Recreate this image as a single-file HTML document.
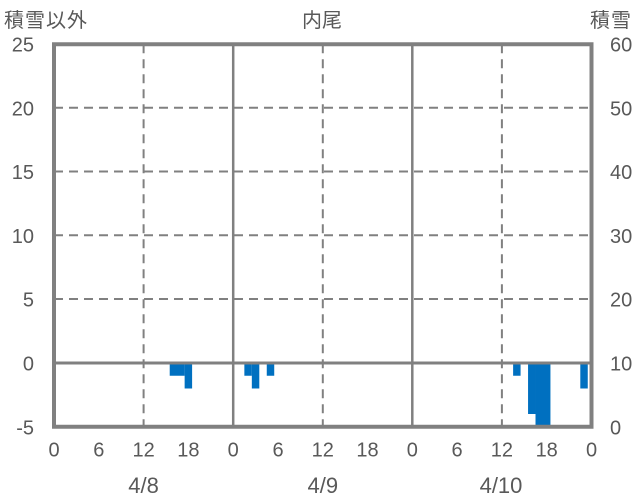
<!DOCTYPE html>
<html><head><meta charset="utf-8"><style>
html,body{margin:0;padding:0;background:#fff;}
svg{display:block;}
text{font-family:"Liberation Sans","Noto Sans CJK JP",sans-serif;fill:#595959;}
.cj{font-family:"Noto Sans CJK JP","Liberation Sans",sans-serif;}
</style></head><body>
<svg width="636" height="501" viewBox="0 0 636 501" xmlns="http://www.w3.org/2000/svg">
<rect width="636" height="501" fill="#fff"/>
<!-- bars -->
<g fill="#0070C0">
<rect x="169.71" y="363" width="14.93" height="12.75"/>
<rect x="184.64" y="363" width="7.47" height="25.5"/>
<rect x="244.36" y="363" width="7.47" height="12.75"/>
<rect x="251.83" y="363" width="7.47" height="25.5"/>
<rect x="266.76" y="363" width="7.47" height="12.75"/>
<rect x="513.12" y="363" width="7.46" height="12.75"/>
<rect x="528.05" y="363" width="7.46" height="51"/>
<rect x="535.51" y="363" width="14.93" height="63.75"/>
<rect x="580.30" y="363" width="7.46" height="25.5"/>
</g>
<!-- grid -->
<g stroke="#808080" stroke-width="2" stroke-dasharray="9,6" fill="none">
<line x1="54" y1="107.75" x2="591.5" y2="107.75"/>
<line x1="54" y1="171.5" x2="591.5" y2="171.5"/>
<line x1="54" y1="235.25" x2="591.5" y2="235.25"/>
<line x1="54" y1="299" x2="591.5" y2="299"/>
<line x1="143.6" y1="44.25" x2="143.6" y2="426.75"/>
<line x1="322.8" y1="44.25" x2="322.8" y2="426.75"/>
<line x1="501.9" y1="44.25" x2="501.9" y2="426.75"/>
</g>
<g stroke="#808080" fill="none">
<line x1="233.2" y1="44.25" x2="233.2" y2="426.75" stroke-width="2.5"/>
<line x1="412.3" y1="44.25" x2="412.3" y2="426.75" stroke-width="2.5"/>
<line x1="54" y1="363" x2="591.5" y2="363" stroke-width="3"/>
<rect x="54" y="44.25" width="537.5" height="382.5" stroke-width="4"/>
</g>
<!-- left axis labels -->
<g font-size="20" text-anchor="end">
<text x="34" y="51.5">25</text>
<text x="34" y="115.25">20</text>
<text x="34" y="179">15</text>
<text x="34" y="242.75">10</text>
<text x="34" y="306.5">5</text>
<text x="34" y="370.5">0</text>
<text x="34" y="434.25">-5</text>
</g>
<!-- right axis labels -->
<g font-size="20" text-anchor="start">
<text x="610" y="51.5">60</text>
<text x="610" y="115.25">50</text>
<text x="610" y="179">40</text>
<text x="610" y="242.75">30</text>
<text x="610" y="306.5">20</text>
<text x="610" y="370.5">10</text>
<text x="610" y="434.25">0</text>
</g>
<!-- x tick labels -->
<g font-size="20" text-anchor="middle">
<text x="54" y="456.5">0</text>
<text x="98.8" y="456.5">6</text>
<text x="143.6" y="456.5">12</text>
<text x="188.4" y="456.5">18</text>
<text x="233.2" y="456.5">0</text>
<text x="278" y="456.5">6</text>
<text x="322.8" y="456.5">12</text>
<text x="367.5" y="456.5">18</text>
<text x="412.3" y="456.5">0</text>
<text x="457.1" y="456.5">6</text>
<text x="501.9" y="456.5">12</text>
<text x="546.7" y="456.5">18</text>
<text x="591.5" y="456.5">0</text>
</g>
<g font-size="22" text-anchor="middle">
<text x="143.6" y="493">4/8</text>
<text x="322.8" y="493">4/9</text>
<text x="501" y="493">4/10</text>
</g>
<!-- titles -->
<text class="cj" x="4" y="27" font-size="20" letter-spacing="1">積雪以外</text>
<text class="cj" x="322" y="27" font-size="20" text-anchor="middle">内尾</text>
<text class="cj" x="632" y="27" font-size="20" text-anchor="end" letter-spacing="1">積雪</text>
</svg>
</body></html>
